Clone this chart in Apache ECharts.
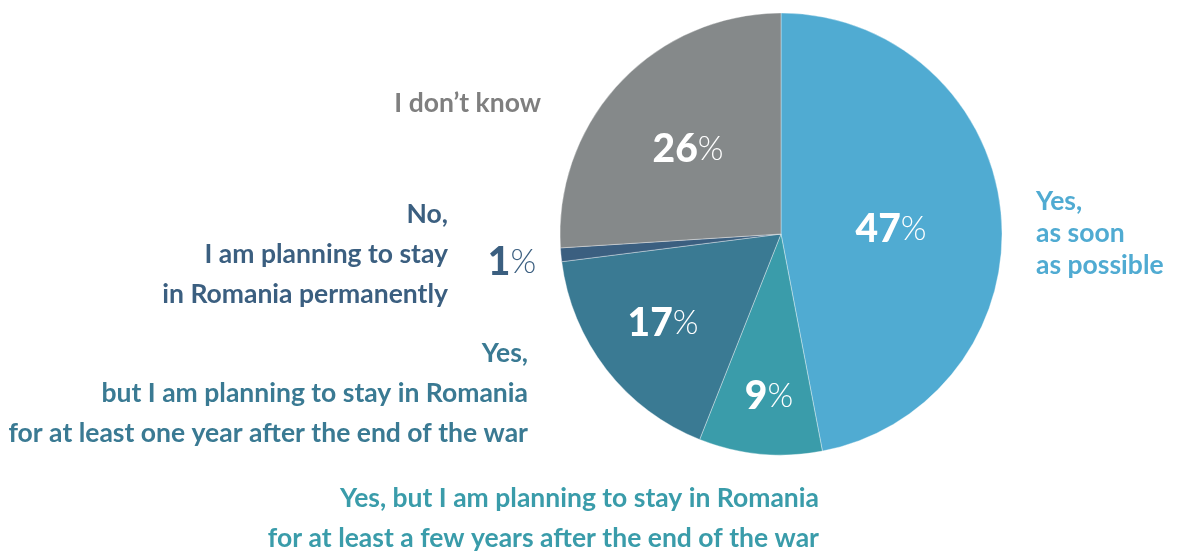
<!DOCTYPE html>
<html>
<head>
<meta charset="utf-8">
<script src="https://cdn.jsdelivr.net/npm/echarts@6/dist/echarts.min.js"></script>
<style>
  html, body { margin: 0; padding: 0; background: #ffffff; }
  #chart { width: 1181px; height: 552px; }
</style>
</head>
<body>
<div id="chart"></div>
<script>
// Survey answers, clockwise from 12 o'clock
const categories = [
  'Yes,\nas soon\nas possible',
  'Yes, but I am planning to stay in Romania\nfor at least a few years after the end of the war',
  'Yes,\nbut I am planning to stay in Romania\nfor at least one year after the end of the war',
  'No,\nI am planning to stay\nin Romania permanently',
  'I don\u2019t know'
];
const values = [47, 9, 17, 1, 26];
const colors = ['#50abd2', '#3a9caa', '#3a7a93', '#3b5f80', '#85898a'];
const textColors = ['#50abd2', '#3a9caa', '#3a7a93', '#3b5f80', '#7f7f7f'];

// Where each percentage sits (centre of the text)
const valuePos = [[891, 229], [769, 396], [663, 323], [512, 262], [688, 149]];
// Category label anchors: [x, y of first line, align, line height]
const catPos = [
  [1036, 201, 'left', 32],
  [819, 498, 'right', 40],
  [528, 353, 'right', 40],
  [448, 214, 'right', 40],
  [541, 103, 'right', 40]
];

const FONT = 'Lato, "Noto Sans", sans-serif';

const chart = echarts.init(document.getElementById('chart'), null, { renderer: 'canvas' });

const graphics = categories.map((txt, i) => {
  const [x, y, align, lh] = catPos[i];
  return {
    type: 'text',
    x: x,
    y: y - lh / 2,
    silent: true,
    style: {
      text: txt,
      font: 'bold 26.5px ' + FONT,
      fill: textColors[i],
      align: align,
      verticalAlign: 'top',
      lineHeight: lh
    }
  };
});

const numStyle = c => ({
  n: { fontFamily: FONT, fontWeight: 900, fontSize: 39, color: c },
  p: { fontFamily: FONT, fontWeight: 300, fontSize: 33, color: c }
});

chart.setOption({
  animation: false,
  backgroundColor: '#ffffff',
  graphic: graphics,
  series: [{
    type: 'pie',
    center: [781, 234],
    radius: [0, 221],
    startAngle: 90,
    clockwise: true,
    avoidLabelOverlap: false,
    itemStyle: { borderColor: 'rgba(255,255,255,0.45)', borderWidth: 0.8 },
    label: {
      show: true,
      position: 'inside',
      formatter: p => '{n|' + p.value + '}{p|%}',
      rich: numStyle('#ffffff')
    },
    labelLine: { show: false },
    labelLayout: params => {
      const [x, y] = valuePos[params.dataIndex];
      return { x: x, y: y, align: 'center', verticalAlign: 'middle' };
    },
    data: values.map((v, i) => {
      const d = { name: categories[i], value: v, itemStyle: { color: colors[i] } };
      // the 1% slice is too thin to hold its number, so it sits outside in the slice colour
      if (i === 3) d.label = { rich: numStyle(colors[3]) };
      return d;
    })
  }]
});
</script>
</body>
</html>
